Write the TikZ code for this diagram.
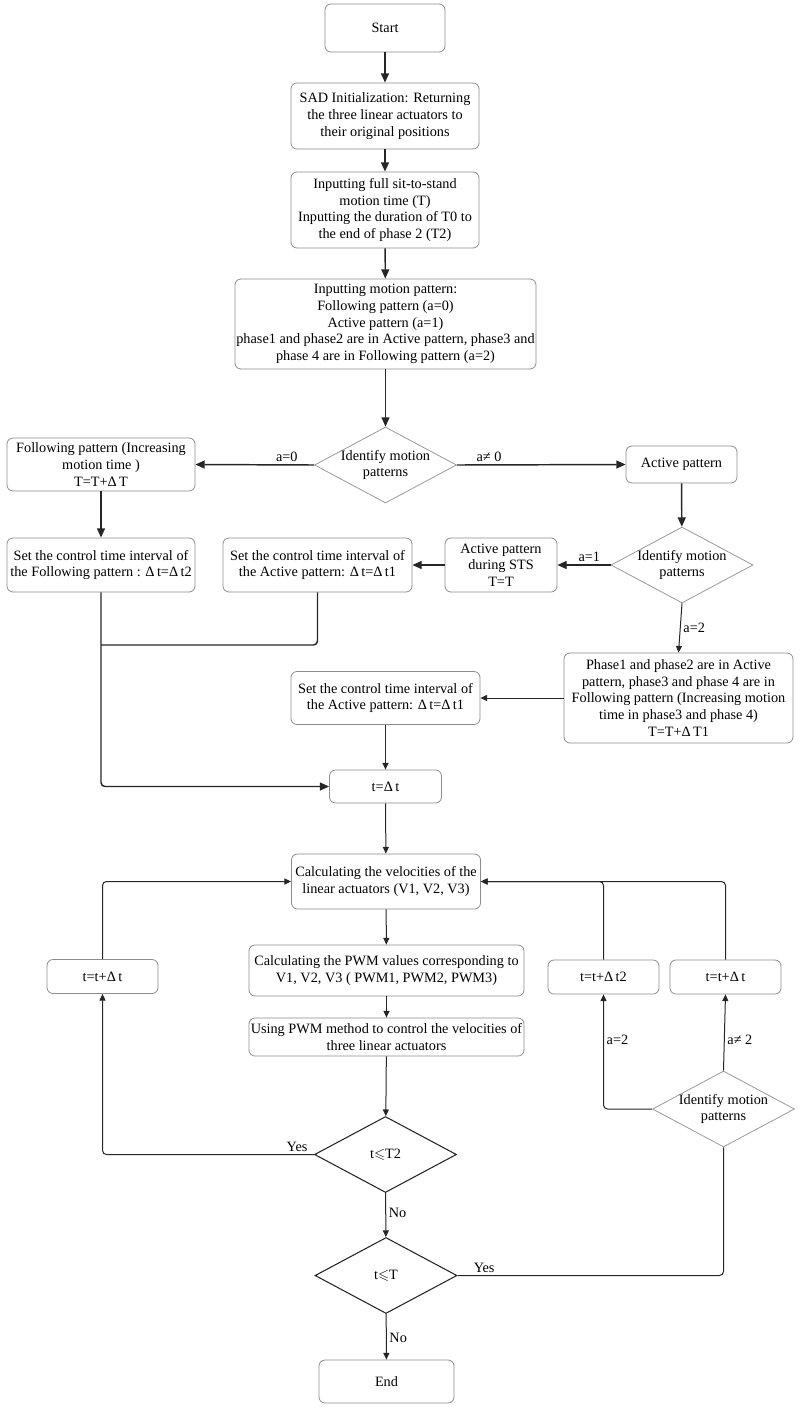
\documentclass[tikz,border=0pt]{standalone}
\usepackage{amssymb}
\usepackage{fontspec}
\setmainfont{Liberation Serif}
\usetikzlibrary{shapes.geometric,arrows.meta}
\tikzset{
  proc/.style={draw=black!45, line width=0.6pt, rounded corners=4.5pt, align=center, inner sep=1pt, font=\fontsize{10.7}{12.5}\selectfont},
  decide/.style={diamond, draw=black!40, line width=0.6pt, inner sep=0pt, minimum width=106.5pt, minimum height=57pt},
  test/.style={decide, draw=black!85, line width=0.8pt},
  dtext/.style={align=center, font=\fontsize{10.7}{12.5}\selectfont},
  lbl/.style={font=\fontsize{10.7}{12.5}\selectfont, inner sep=2pt},
  link/.style={draw=black!85, line width=1.1pt, rounded corners=3pt},
  flow/.style={link, -{Triangle[length=7pt,width=6pt]}},
  thinlink/.style={draw=black!85, line width=0.75pt, rounded corners=3pt},
  thinflow/.style={thinlink, -{Triangle[length=5pt,width=4.5pt]}},
}
\begin{document}
\begin{tikzpicture}[x=0.75pt,y=0.75pt,yscale=-1,xscale=1]
\useasboundingbox (0,0) rectangle (800,1407);

%Shape: Rounded Rect
\node[proc, minimum width=90pt, minimum height=36pt] (start) at (385,28) {Start};
%Shape: Rounded Rect
\node[proc, minimum width=141pt, minimum height=49.5pt] (init) at (385,116) {SAD Initialization: Returning\\the three linear actuators to\\their original positions};
%Shape: Rounded Rect
\node[proc, minimum width=141pt, minimum height=57pt] (input) at (385,210) {Inputting full sit-to-stand\\motion time (T)\\Inputting the duration of T0 to\\the end of phase 2 (T2)};
%Shape: Rounded Rect
\node[proc, minimum width=225.75pt, minimum height=67.5pt] (mode) at (385.5,324) {Inputting motion pattern:\\Following pattern (a=0)\\Active pattern (a=1)\\phase1 and phase2 are in Active pattern, phase3 and\\phase 4 are in Following pattern (a=2)};
%Shape: Diamond
\node[decide, label={[dtext]center:{Identify motion\\patterns}}] (id1) at (385.5,465) {};

%Shape: Rounded Rect
\node[proc, minimum width=141pt, minimum height=39.75pt] (follow) at (101,464.5) {Following pattern (Increasing\\motion time )\\T=T+Δ\,T};
%Shape: Rounded Rect
\node[proc, minimum width=83.25pt, minimum height=27.75pt] (active) at (681.5,464.5) {Active pattern};
%Shape: Diamond
\node[decide, label={[dtext]center:{Identify motion\\patterns}}] (id2) at (682,565) {};
%Shape: Rounded Rect
\node[proc, minimum width=84pt, minimum height=40.5pt] (sts) at (501,565) {Active pattern\\during STS\\T=T};
%Shape: Rounded Rect
\node[proc, minimum width=141.75pt, minimum height=40.5pt] (setact1) at (317.5,565) {Set the control time interval of\\the Active pattern: Δ\,t=Δ\,t1};
%Shape: Rounded Rect
\node[proc, minimum width=141pt, minimum height=40.5pt] (setfol) at (101,565) {Set the control time interval of\\the Following pattern : Δ\,t=Δ\,t2};
%Shape: Rounded Rect
\node[proc, minimum width=171.75pt, minimum height=67.5pt] (phase) at (678.5,698) {Phase1 and phase2 are in Active\\pattern, phase3 and phase 4 are in\\Following pattern (Increasing motion\\time in phase3 and phase 4)\\T=T+Δ\,T1};
%Shape: Rounded Rect
\node[proc, minimum width=141.75pt, minimum height=39.75pt] (setact2) at (385.5,698) {Set the control time interval of\\the Active pattern: Δ\,t=Δ\,t1};

%Shape: Rounded Rect
\node[proc, minimum width=84pt, minimum height=24.75pt] (tinit) at (385.5,786.5) {t=Δ\,t};
%Shape: Rounded Rect
\node[proc, minimum width=141.75pt, minimum height=41.25pt] (vel) at (386,881.5) {Calculating the velocities of the\\linear actuators (V1, V2, V3)};
%Shape: Rounded Rect
\node[proc, minimum width=206.25pt, minimum height=38.25pt] (pwm) at (386.5,970.5) {Calculating the PWM values corresponding to\\V1, V2, V3 ( PWM1, PWM2, PWM3)};
%Shape: Rounded Rect
\node[proc, minimum width=206.25pt, minimum height=28.5pt] (ctrl) at (386.5,1037) {Using PWM method to control the velocities of\\three linear actuators};
%Shape: Diamond
\node[test, label={[dtext]center:{t$\leqslant$T2}}] (le2) at (385.5,1154.5) {};
%Shape: Diamond
\node[test, label={[dtext]center:{t$\leqslant$T}}] (leT) at (386,1275.5) {};
%Shape: Rounded Rect
\node[proc, minimum width=101.25pt, minimum height=32.25pt] (finish) at (386.5,1381.5) {End};

%Shape: Rounded Rect
\node[proc, minimum width=83.25pt, minimum height=25.5pt] (incl) at (102.5,976.5) {t=t+Δ\,t};
%Shape: Rounded Rect
\node[proc, minimum width=83.25pt, minimum height=25.5pt] (inc2) at (603.5,977) {t=t+Δ\,t2};
%Shape: Rounded Rect
\node[proc, minimum width=83.25pt, minimum height=25.5pt] (incr) at (725.5,977) {t=t+Δ\,t};
%Shape: Diamond
\node[decide, label={[dtext]center:{Identify motion\\patterns}}] (id3) at (723.5,1109) {};

%Straight Lines
\draw[flow] (start) -- (init);
\draw[flow] (init) -- (input);
\draw[flow] (input) -- (mode);
\draw[flow] (mode) -- (id1);
\draw[flow] (id1.west) -- node[lbl, above, pos=0.23] (la0) {a=0} (follow.east);
\draw[flow] (id1.east) -- node[lbl, above, pos=0.19] (lan0) {a≠ 0} (active.west);
\draw[flow] (follow) -- (setfol);
\draw[flow] (active) -- (id2);
\draw[flow] (id2.west) -- node[lbl, above, pos=0.4] (la1) {a=1} (sts.east);
\draw[flow] (sts.west) -- (setact1.east);
\draw[thinflow] (id2.south) -- node[lbl, right, pos=0.5] (la2) {a=2} (phase.north);
\draw[thinflow] (phase.west) -- (setact2.east);

%Straight Lines
\coordinate (merge) at (101,645);
\draw[link] (setact1.south) |- (merge);
\draw[flow] (setfol.south) |- (tinit.west);
\draw[thinflow] (setact2) -- (tinit);
\draw[thinflow] (tinit) -- (vel);
\draw[thinflow] (vel) -- (pwm);
\draw[thinflow] (pwm) -- (ctrl);
\draw[thinflow] (ctrl) -- (le2);
\draw[thinflow] (le2) -- node[lbl, right, pos=0.46] (lno1) {No} (leT);
\draw[thinflow] (leT) -- node[lbl, right, pos=0.53] (lno2) {No} (finish);

%Straight Lines
\draw[thinflow] (le2.west) -| node[lbl, above, pos=0.04] (lyes1) {Yes} (incl.south);
\draw[thinflow] (incl.north) |- (vel.west);
\draw[thinlink] (leT.east) -| node[lbl, above, pos=0.05] (lyes2) {Yes} (id3.south);
\draw[thinflow] (id3.north) -- node[lbl, right, pos=0.41] (lan2) {a≠ 2} (incr.south);
\draw[thinflow] (id3.west) -| node[lbl, right, pos=0.8] (la22) {a=2} (inc2.south);
\draw[thinflow] (inc2.north) |- (vel.east);
\draw[thinflow] (incr.north) |- (vel.east);

\end{tikzpicture}
\end{document}
